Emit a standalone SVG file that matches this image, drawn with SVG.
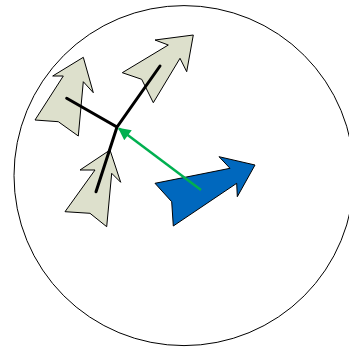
<svg xmlns="http://www.w3.org/2000/svg" width="349" height="348" viewBox="0 0 349 348">
<defs>
<style>
.ga{fill:#dde0cc;stroke:#000;stroke-width:1;stroke-linejoin:miter}
.ba{fill:#0068be;stroke:#000;stroke-width:1}
.bl{stroke:#000;stroke-width:3;fill:none;stroke-linecap:round}
.gl{stroke:#00b050;stroke-width:2.5;fill:none}
</style>
<marker id="gh" viewBox="0 0 10 10" refX="9" refY="5" markerWidth="6.4" markerHeight="5" orient="auto" markerUnits="strokeWidth">
<path d="M0,0 L10,5 L0,10 z" fill="#00b050"/>
</marker>
</defs>
<rect width="349" height="348" fill="#fff"/>
<circle id="boundary" cx="184" cy="175.6" r="170" fill="none" stroke="#000" stroke-width="1"/>
<g id="arrow-upper-left"><polygon class="ga" points="83.3,57.3 93.3,92.7 83.3,81.7 78.3,136 58.3,121.7 35,120 63.3,76 52.7,76"/></g>
<g id="arrow-upper-right"><polygon class="ga" points="193.3,35 186.7,71.7 180,58.3 153.3,102.7 141.7,79.3 122.3,72.7 168.3,45 155,40"/></g>
<g id="arrow-lower"><polygon class="ga" points="110,150 120.7,182.3 111.7,173.3 106.7,226.7 90,213.3 65,211.7 95,170 80,170"/></g>
<g id="arrow-blue"><polygon class="ba" points="255,165 237.3,196.7 236.7,183.3 173.3,226 171.7,201.7 155,183.3 230,168.3 219,156.7"/></g>
<g id="connectors">
<path class="bl" d="M160,66 L117,127 L66.7,98.3 M117,127 L96,191.7"/>
<path class="gl" d="M201,190 L119,128.5" marker-end="url(#gh)"/>
</g>
</svg>
